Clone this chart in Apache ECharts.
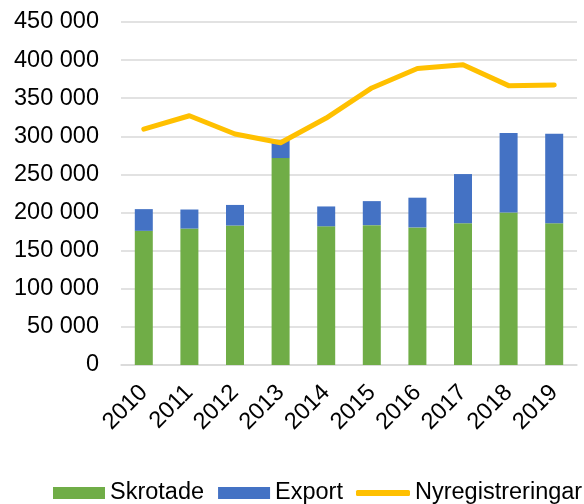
<!DOCTYPE html>
<html><head><meta charset="utf-8">
<script src="https://cdn.jsdelivr.net/npm/echarts@6/dist/echarts.min.js"></script>
<style>html,body{margin:0;padding:0;background:#fff}#c{width:584px;height:504px}</style>
</head><body><div id="c"></div>
<script>
var years = ['2010','2011','2012','2013','2014','2015','2016','2017','2018','2019'];
var skrotade = [176000, 179000, 183000, 271500, 182000, 183500, 180500, 186000, 200000, 186000];
var exportVals = [28500, 25000, 27000, 24000, 26000, 31500, 39000, 64500, 104500, 117500];
var nyreg = [309500, 327000, 303000, 291500, 324000, 363500, 389000, 394000, 366500, 367500];
var yMin = 0, yMax = 450000, yStep = 50000;

function fmt(v){ return String(v).replace(/\B(?=(\d{3})+(?!\d))/g, ' '); }

var chart = echarts.init(document.getElementById('c'), null, {renderer:'canvas'});
var font = 'Arial, "Liberation Sans", sans-serif';
var legText = {fontFamily: font, fontSize: 23.5, color: '#000'};
chart.setOption({
  animation: false,
  backgroundColor: '#fff',
  grid: {left: 121, right: 7, top: 22, bottom: 139, containLabel: false},
  legend: [{
    left: 53, top: 481, padding: 0, width: 2000, itemWidth: 52, itemHeight: 12, itemGap: 14,
    textStyle: legText,
    data: [
      {name:'Skrotade', icon:'rect'},
      {name:'Export', icon:'rect'}
    ]
  }, {
    left: 356, top: 481, padding: 0, width: 2000, itemWidth: 54, itemHeight: 6, itemGap: 14,
    textStyle: legText,
    data: [{name:'Nyregistreringar', icon:'roundRect', itemStyle:{color:'#FFC000'}}]
  }],
  xAxis: {
    type: 'category', data: years,
    axisLine: {show: true, lineStyle: {color: '#D9D9D9', width: 1.5}},
    axisTick: {show: false},
    axisLabel: {rotate: 45, fontFamily: font, fontSize: 23.5, color: '#000', margin: 24}
  },
  yAxis: {
    type: 'value', min: yMin, max: yMax, interval: yStep,
    axisLine: {show: false}, axisTick: {show: false},
    splitLine: {lineStyle: {color: '#D9D9D9', width: 1.5}},
    axisLabel: {fontFamily: font, fontSize: 23.5, color: '#000', margin: 22, formatter: fmt}
  },
  series: [
    {name:'Skrotade', type:'bar', stack:'s', data: skrotade, barWidth: 18,
     itemStyle:{color:'#70AD47'}},
    {name:'Export', type:'bar', stack:'s', data: exportVals, barWidth: 18,
     itemStyle:{color:'#4472C4'}},
    {name:'Nyregistreringar', type:'line', data: nyreg, symbol:'none',
     lineStyle:{color:'#FFC000', width: 5, cap:'round', join:'round'},
     itemStyle:{color:'#FFC000'}}
  ]
});
</script></body></html>
